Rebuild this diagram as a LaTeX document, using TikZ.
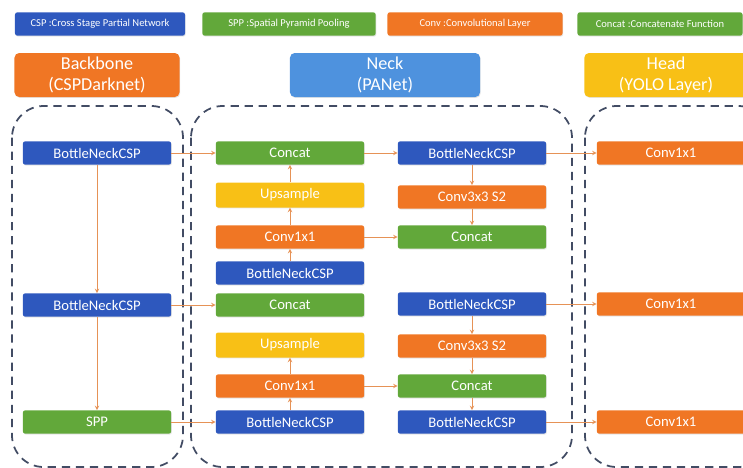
\documentclass[tikz,border=0pt]{standalone}
\usepackage{fontspec}
\setmainfont{Carlito}
\usetikzlibrary{shadows}

\definecolor{cspblue}{RGB}{46,88,190}
\definecolor{sppgreen}{RGB}{98,168,58}
\definecolor{convorange}{RGB}{240,118,36}
\definecolor{upyellow}{RGB}{248,192,22}
\definecolor{neckblue}{RGB}{78,146,222}
\definecolor{linkorange}{RGB}{230,146,86}
\definecolor{dashgray}{RGB}{66,76,100}

\tikzset{
  blk/.style={rounded corners=2pt, minimum width=4.45cm, minimum height=0.7cm,
    inner sep=1pt, text=white, font=\fontsize{12.5}{14}\selectfont,
    drop shadow={opacity=0.2,shadow xshift=0.6pt,shadow yshift=-0.8pt}},
  csp/.style={blk, fill=cspblue},
  cat/.style={blk, fill=sppgreen},
  conv/.style={blk, fill=convorange},
  ups/.style={blk, fill=upyellow, minimum height=0.75cm},
  leg/.style={blk, minimum height=0.7cm, font=\fontsize{9}{10}\selectfont},
  hdr/.style={blk, rounded corners=4pt, minimum height=1.32cm, align=center,
    font=\fontsize{15.5}{17.5}\selectfont},
  part/.style={draw=dashgray, line width=1.5pt, dash pattern=on 7pt off 5pt,
    rounded corners=0.95cm},
  link/.style={->, draw=linkorange, line width=0.7pt}
}

\begin{document}
\begin{tikzpicture}[>=stealth,x=0.03cm,y=-0.03cm]

                \useasboundingbox (0,0) rectangle (743,468);

                \draw[part] (12,106) rectangle (183,467);
                \draw[part] (191,106) rectangle (572,467);
                \draw[part] (585,106) rectangle (770,467);

                \node[leg, fill=cspblue, minimum width=5.1cm] (legcsp) at (100,24) {CSP :Cross Stage Partial Network};
                \node[leg, fill=sppgreen, minimum width=5.2cm] (legspp) at (289,24) {SPP :Spatial Pyramid Pooling};
                \node[leg, fill=convorange, minimum width=5.25cm] (legconv) at (475,24) {Conv :Convolutional Layer};
                \node[leg, fill=sppgreen, minimum width=4.95cm] (legcat) at (660,24) {Concat :Concatenate Function};

                \node[hdr, fill=convorange, minimum width=4.95cm] (backbone) at (97,75) {Backbone\\(CSPDarknet)};
                \node[hdr, fill=neckblue, minimum width=5.7cm] (neck) at (385,75) {Neck\\(PANet)};
                \node[hdr, fill=upyellow, minimum width=4.9cm] (head) at (666,75) {Head\\(YOLO Layer)};

                \node[csp] (bb1) at (97,153) {BottleNeckCSP};
                \node[csp] (bb2) at (97,305) {BottleNeckCSP};
                \node[cat] (spp) at (97,422) {SPP};

                \node[cat] (nc1) at (290,153) {Concat};
                \node[ups] (nup1) at (290,195) {Upsample};
                \node[conv] (ncv1) at (290,237) {Conv1x1};
                \node[csp] (nb1) at (290,273) {BottleNeckCSP};
                \node[cat] (nc2) at (290,305) {Concat};
                \node[ups] (nup2) at (290,345) {Upsample};
                \node[conv] (ncv2) at (290,386) {Conv1x1};
                \node[csp] (nb2) at (290,422) {BottleNeckCSP};

                \node[csp] (rb1) at (472,153) {BottleNeckCSP};
                \node[conv] (rcv1) at (472,197) {Conv3x3 S2};
                \node[cat] (rc1) at (472,237) {Concat};
                \node[csp] (rb2) at (472,304) {BottleNeckCSP};
                \node[conv] (rcv2) at (472,346) {Conv3x3 S2};
                \node[cat] (rc2) at (472,386) {Concat};
                \node[csp] (rb3) at (472,422) {BottleNeckCSP};

                \node[conv] (h1) at (671,153) {Conv1x1};
                \node[conv] (h2) at (671,304) {Conv1x1};
                \node[conv] (h3) at (671,422) {Conv1x1};

                \draw[link] (bb1) -- (bb2);
                \draw[link] (bb2) -- (spp);
                \draw[link] (bb1) -- (nc1);
                \draw[link] (bb2) -- (nc2);
                \draw[link] (spp) -- (nb2);

                \draw[link] (nb1) -- (ncv1);
                \draw[link] (ncv1) -- (nup1);
                \draw[link] (nup1) -- (nc1);
                \draw[link] (nb2) -- (ncv2);
                \draw[link] (ncv2) -- (nup2);

                \draw[link] (nc1) -- (rb1);
                \draw[link] (rb1) -- (rcv1);
                \draw[link] (rcv1) -- (rc1);
                \draw[link] (ncv1) -- (rc1);
                \draw[link] (rb2) -- (rcv2);
                \draw[link] (rcv2) -- (rc2);
                \draw[link] (rc2) -- (rb3);
                \draw[link] (ncv2) -- (rc2);

                \draw[link] (rb1) -- (h1);
                \draw[link] (rb2) -- (h2);
                \draw[link] (rb3) -- (h3);

            \end{tikzpicture}
\end{document}
